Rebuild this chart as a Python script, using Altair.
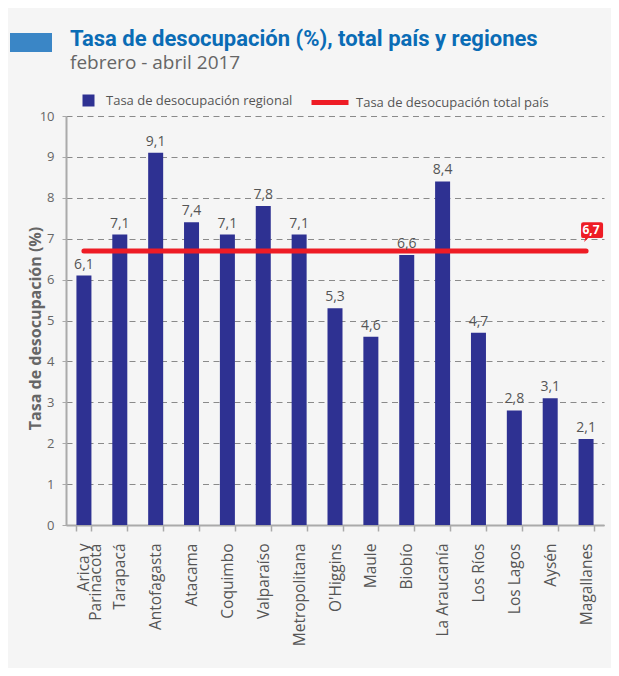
import altair as alt
import pandas as pd

regiones = ["Arica y Parinacotá", "Tarapacá", "Antofagasta", "Atacama", "Coquimbo",
            "Valparaíso", "Metropolitana", "O'Higgins", "Maule", "Biobío",
            "La Araucanía", "Los Ríos", "Los Lagos", "Aysén", "Magallanes"]
tasa_regional = [6.1, 7.1, 9.1, 7.4, 7.1, 7.8, 7.1, 5.3, 4.6, 6.6, 8.4, 4.7, 2.8, 3.1, 2.1]
tasa_total_pais = 6.7

serie_regional = "Tasa de desocupación regional"
serie_total = "Tasa de desocupación total país"

df = pd.DataFrame({
    "region": regiones,
    "valor": tasa_regional,
    "etiqueta": [f"{v:.1f}".replace(".", ",") for v in tasa_regional],
    "serie": serie_regional,
    "total": tasa_total_pais,
    "serie_total": serie_total,
})
df_callout = pd.DataFrame({
    "region": [regiones[-1]],
    "total": [tasa_total_pais],
    "etiqueta": [f"{tasa_total_pais:.1f}".replace(".", ",")],
})

FONT = "Open Sans"
x_enc = alt.X(
    "region:N", sort=regiones,
    scale=alt.Scale(paddingInner=0.58, paddingOuter=0.29),
    axis=alt.Axis(
        title=None, labelAngle=-90, labelFontSize=15.5, labelFont=FONT, labelColor="#555555",
        labelPadding=12, labelLineHeight=12, tickBand="extent", tickSize=6,
        tickColor="#aaaaaa", domainColor="#aaaaaa", domainWidth=2, tickWidth=1.5,
        labelExpr="datum.label == 'Arica y Parinacotá' ? ['Arica y', 'Parinacotá'] : datum.label",
    ),
)
y_scale = alt.Scale(domain=[0, 10], nice=False)

bars = alt.Chart(df).mark_bar(size=15).encode(
    x=x_enc,
    y=alt.Y("valor:Q", scale=y_scale,
            axis=alt.Axis(values=list(range(0, 11)), title="Tasa de desocupación (%)",
                          titleFont=FONT, titleFontSize=16, titleFontWeight="bold",
                          titleColor="#666666", titleX=-31, titleY=212,
                          titleAlign="center", titleBaseline="middle", titleAngle=-90,
                          labelFont=FONT, labelFontSize=13, labelColor="#666666",
                          labelPadding=8, tickSize=4, tickColor="#aaaaaa",
                          domainColor="#aaaaaa", domainWidth=2,
                          grid=True, gridDash=[6, 4.5], gridColor="#8a8a8a", gridWidth=1)),
    color=alt.Color("serie:N", scale=alt.Scale(range=["#2e3192"]),
                    legend=alt.Legend(orient="none", legendX=16, legendY=-22, title=None,
                                      symbolType="square", symbolSize=144, symbolStrokeWidth=0,
                                      labelFont=FONT, labelFontSize=13, labelColor="#555555",
                                      labelOffset=11, labelLimit=300, padding=0)),
)

line = alt.Chart(df).mark_line(strokeWidth=5, strokeCap="round").encode(
    x=alt.X("region:N", sort=regiones),
    y=alt.Y("total:Q", scale=y_scale),
    stroke=alt.Stroke("serie_total:N", scale=alt.Scale(range=["#ee1c25"]),
                      legend=alt.Legend(orient="none", legendX=243, legendY=-34.5, title=None,
                                        symbolType="stroke", symbolSize=1369, symbolStrokeWidth=5,
                                        labelFont=FONT, labelFontSize=13, labelColor="#555555",
                                        labelOffset=5, labelLimit=300, padding=0)),
)

labels = alt.Chart(df).mark_text(font=FONT, fontSize=14, color="#555555", dy=-7,
                                 baseline="alphabetic").encode(
    x=alt.X("region:N", sort=regiones),
    y=alt.Y("valor:Q", scale=y_scale),
    text="etiqueta:N",
)

callout_path = ("M -0.8 -0.8 L 0.8 -0.8 Q 1 -0.8 1 -0.6 L 1 0.45 Q 1 0.65 0.8 0.65 "
                "L -0.35 0.65 L -0.72 1 L -0.62 0.65 L -0.8 0.65 Q -1 0.65 -1 0.45 "
                "L -1 -0.6 Q -1 -0.8 -0.8 -0.8 Z")
callout_box = alt.Chart(df_callout).mark_point(
    shape=callout_path, size=484, filled=True, opacity=1, fill="#ee1c25", strokeWidth=0,
    xOffset=6, yOffset=-20,
).encode(
    x=alt.X("region:N", sort=regiones),
    y=alt.Y("total:Q", scale=y_scale),
)
callout_text = alt.Chart(df_callout).mark_text(
    font=FONT, fontSize=12, fontWeight="bold", color="white", dx=5, dy=-21,
    baseline="middle", align="center",
).encode(
    x=alt.X("region:N", sort=regiones),
    y=alt.Y("total:Q", scale=y_scale),
    text="etiqueta:N",
)

deco = alt.Chart(alt.Data(values=[{"a": 1}])).mark_rect(color="#3a86c6").encode(
    x=alt.value(-56), x2=alt.value(-14), y=alt.value(-83), y2=alt.value(-64),
)

chart = alt.layer(bars, line, labels, callout_box, callout_text, deco).properties(
    width=538, height=409,
    padding={"left": 58, "top": 108, "right": 7, "bottom": 143},
    autosize=alt.AutoSizeParams(type="none"),
    title=alt.TitleParams(
        text="Tasa de desocupación (%), total país y regiones",
        subtitle="febrero - abril 2017",
        anchor="start", frame="group", dx=4, offset=-41,
        font="Roboto", fontSize=22, fontWeight="bold", color="#0a6cb5",
        subtitleFont=FONT, subtitleFontSize=19, subtitleColor="#666666", subtitlePadding=3,
    ),
).configure(background="#f5f5f5").configure_view(stroke=None)

chart.save("out.html", embed_options={"renderer": "svg", "actions": False})
